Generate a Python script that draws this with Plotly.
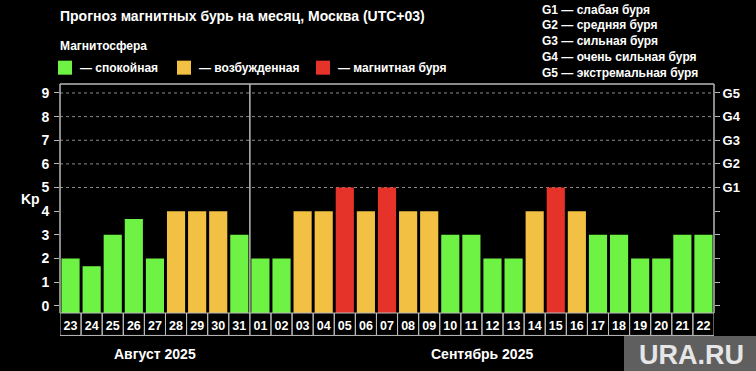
import plotly.graph_objects as go

# ---- data ----
aug_days = ["23", "24", "25", "26", "27", "28", "29", "30", "31"]
sep_days = ["01", "02", "03", "04", "05", "06", "07", "08", "09", "10", "11",
            "12", "13", "14", "15", "16", "17", "18", "19", "20", "21", "22"]
kp_aug = [2, 1.67, 3, 3.67, 2, 4, 4, 4, 3]
kp_sep = [2, 2, 4, 4, 5, 4, 5, 4, 4, 3, 3, 2, 2, 4, 5, 4, 3, 3, 2, 2, 3, 3]
month_labels = ["Август 2025", "Сентябрь 2025"]
kp_ticks = [0, 1, 2, 3, 4, 5, 6, 7, 8, 9]
g_levels = [5, 6, 7, 8, 9]
g_labels = ["G1", "G2", "G3", "G4", "G5"]
g_descr = ["G1 — слабая буря", "G2 — средняя буря", "G3 — сильная буря",
           "G4 — очень сильная буря", "G5 — экстремальная буря"]
legend_labels = ["— спокойная", "— возбужденная", "— магнитная буря"]

GREEN = "#6ef244"
ORANGE = "#f2c043"
RED = "#e5332a"
FONT = "Liberation Sans"
Y_MIN, Y_MAX = -0.31, 9.38

days = aug_days + sep_days
kp = kp_aug + kp_sep


def color_for(v):
    if v >= 5:
        return RED
    if v >= 4:
        return ORANGE
    return GREEN


fig = go.Figure()
fig.add_trace(go.Bar(
    x=days, y=[v - Y_MIN for v in kp], base=Y_MIN,
    marker=dict(color=[color_for(v) for v in kp], line=dict(width=0)),
    hoverinfo="skip", showlegend=False,
))
fig.add_trace(go.Scatter(x=[days[0]], y=[0], yaxis="y2", mode="markers",
                         marker=dict(opacity=0), showlegend=False, hoverinfo="skip"))

shapes = []
# dotted storm-level gridlines
for g in g_levels:
    shapes.append(dict(type="line", xref="paper", x0=0, x1=1, yref="y", y0=g, y1=g,
                       line=dict(color="#8a8a8a", width=1, dash="dot"), layer="below"))
# month separator
sep_x = len(aug_days) - 0.5
shapes.append(dict(type="line", xref="x", x0=sep_x, x1=sep_x, yref="paper", y0=0, y1=1,
                   line=dict(color="#b8b8b8", width=1.5)))
# date cells under the axis
for i in range(len(days)):
    shapes.append(dict(type="rect", xref="x", x0=i - 0.5, x1=i + 0.5, yref="paper",
                       y0=-0.098, y1=0, line=dict(color="#bdbdbd", width=1)))
# plot frame (top, left, right)
shapes.append(dict(type="line", xref="paper", x0=0, x1=1, yref="paper", y0=1, y1=1,
                   line=dict(color="#b8b8b8", width=1.5)))
shapes.append(dict(type="line", xref="paper", x0=0, x1=0, yref="paper", y0=0, y1=1,
                   line=dict(color="#b8b8b8", width=1.5)))
shapes.append(dict(type="line", xref="paper", x0=1, x1=1, yref="paper", y0=0, y1=1,
                   line=dict(color="#b8b8b8", width=1.5)))

# legend squares
legend_colors = [GREEN, ORANGE, RED]
legend_x = [58, 177, 316]
annotations = []
for lx, c, t in zip(legend_x, legend_colors, legend_labels):
    shapes.append(dict(type="rect", xref="paper", yref="paper",
                       x0=(lx - 60) / 654, x1=(lx - 60 + 14) / 654,
                       y0=(313 - 75) / 228.7, y1=(313 - 61) / 228.7,
                       fillcolor=c, line=dict(width=0)))
    annotations.append(dict(text=t, xref="paper", yref="paper",
                            x=(lx - 60 + 20) / 654, y=(313 - 68) / 228.7,
                            xanchor="left", yanchor="middle", showarrow=False,
                            font=dict(family=FONT, size=12, color="white", weight="bold")))

# watermark box
shapes.append(dict(type="rect", xref="paper", yref="paper",
                   x0=(624 - 60) / 654, x1=(760 - 60) / 654,
                   y0=(313 - 375) / 228.7, y1=(313 - 336) / 228.7,
                   fillcolor="#5f5f5f", line=dict(width=0)))

# title
annotations.append(dict(text="Прогноз магнитных бурь на месяц, Москва (UTC+03)",
                        xref="paper", yref="paper", x=(58 - 60) / 654, y=(313 - 16) / 228.7,
                        xanchor="left", yanchor="middle", showarrow=False,
                        font=dict(family=FONT, size=14, color="white", weight="bold")))
annotations.append(dict(text="Магнитосфера",
                        xref="paper", yref="paper", x=(58 - 60) / 654, y=(313 - 46) / 228.7,
                        xanchor="left", yanchor="middle", showarrow=False,
                        font=dict(family=FONT, size=12, color="white", weight="bold")))
# G descriptions
for k, t in enumerate(g_descr):
    annotations.append(dict(text=t, xref="paper", yref="paper",
                            x=(540 - 60) / 654, y=(313 - (10 + 15.8 * k)) / 228.7,
                            xanchor="left", yanchor="middle", showarrow=False,
                            font=dict(family=FONT, size=12, color="white", weight="bold")))
# Kp label
annotations.append(dict(text="Kp", xref="paper", yref="y", x=(30 - 60) / 654, y=4.5,
                        xanchor="center", yanchor="middle", showarrow=False,
                        font=dict(family=FONT, size=14, color="white", weight="bold")))
# month labels
groups = [aug_days, sep_days]
start = 0
for lab, grp in zip(month_labels, groups):
    center = start + (len(grp) - 1) / 2
    annotations.append(dict(text=lab, xref="x", yref="paper", x=center,
                            y=(313 - 354) / 228.7, xanchor="center", yanchor="middle",
                            showarrow=False,
                            font=dict(family=FONT, size=14, color="white", weight="bold")))
    start += len(grp)
# watermark text
annotations.append(dict(text="URA.RU", xref="paper", yref="paper",
                        x=(691 - 60) / 654, y=(313 - 355) / 228.7,
                        xanchor="center", yanchor="middle", showarrow=False,
                        font=dict(family=FONT, size=27, color="#e6e6e6", weight="bold")))

fig.update_layout(
    width=756, height=371,
    margin=dict(l=60, r=42, t=84, b=58),
    paper_bgcolor="black", plot_bgcolor="black",
    bargap=0.14,
    xaxis=dict(type="category", categoryorder="array", categoryarray=days,
               range=[-0.5, len(days) - 0.5],
               showgrid=False, zeroline=False, showline=False, ticks="",
               ticklabelstandoff=3,
               tickfont=dict(family=FONT, size=12.5, color="white", weight="bold")),
    yaxis=dict(range=[Y_MIN, Y_MAX], tickvals=kp_ticks, showgrid=False, zeroline=False,
               showline=False, ticks="outside", ticklen=5, tickcolor="#b8b8b8",
               tickwidth=1, ticklabelstandoff=2,
               tickfont=dict(family=FONT, size=14, color="white", weight="bold")),
    yaxis2=dict(range=[Y_MIN, Y_MAX], overlaying="y", side="right",
                tickvals=kp_ticks, ticktext=[""] * 5 + g_labels,
                showgrid=False, zeroline=False, showline=False,
                ticks="outside", ticklen=5, tickcolor="#b8b8b8", tickwidth=1,
                tickfont=dict(family=FONT, size=13, color="white", weight="bold")),
    shapes=shapes, annotations=annotations,
)

fig.write_html("out.html",
               config={"displayModeBar": False, "staticPlot": True},
               post_script="document.body.style.margin='0px';"
                           "document.body.style.background='black';")
